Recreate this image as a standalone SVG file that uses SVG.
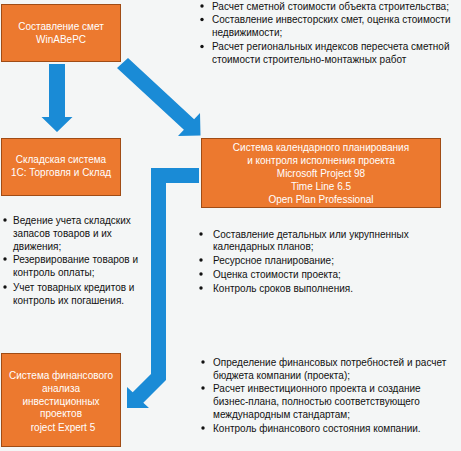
<svg xmlns="http://www.w3.org/2000/svg" width="461" height="451" viewBox="0 0 461 451">
<style>
.box{fill:#EC792F;stroke:#A04C15;stroke-width:1}
.bt{font-family:"Liberation Sans",Arial,sans-serif;font-size:10px;fill:#ffffff;text-anchor:middle}
.lt{font-family:"Liberation Sans",Arial,sans-serif;font-size:10px;fill:#111111}
.arrow{fill:#1A8BD6}
.dot{fill:#111111}
</style>
<rect x="0" y="0" width="461" height="451" fill="#F4F6F6"/>
<g id="connectors">
<polygon class="arrow" points="49,64 65,64 65,117 72.5,117 57,132 41.5,117 49,117"/>
<polygon class="arrow" points="117,68 128,58 194.1,119.2 200,113 200.5,135.5 178,136 183.9,129.8"/>
<polygon class="arrow" points="199,168 151,168 151,374 132.7,392.2 127,387 127,408 149,408 143.3,402.8 166,380 166,183 199,183"/>
</g>
<g id="node-smety">
<rect class="box" x="1.5" y="4.5" width="119" height="57"/>
<text class="bt" x="61" y="30">Составление смет</text>
<text class="bt" x="61" y="43">WinАВеРС</text>
</g>
<g id="list-smety">
<circle class="dot" cx="202" cy="6" r="1.7"/>
<text class="lt" x="212" y="9.5">Расчет сметной стоимости объекта строительства;</text>
<circle class="dot" cx="202" cy="19.5" r="1.7"/>
<text class="lt" x="212" y="23">Составление инвесторских смет, оценка стоимости</text>
<text class="lt" x="212" y="35.5">недвижимости;</text>
<circle class="dot" cx="202" cy="46.5" r="1.7"/>
<text class="lt" x="212" y="50">Расчет региональных индексов пересчета сметной</text>
<text class="lt" x="212" y="62.5">стоимости строительно-монтажных работ</text>
</g>
<g id="node-sklad">
<rect class="box" x="1.5" y="138.5" width="119" height="57"/>
<text class="bt" x="61" y="163">Складская система</text>
<text class="bt" x="61" y="176">1С: Торговля и Склад</text>
</g>
<g id="list-sklad">
<circle class="dot" cx="5" cy="220" r="1.7"/>
<text class="lt" x="13" y="223.5">Ведение учета складских</text>
<text class="lt" x="13" y="236.5">запасов товаров и их</text>
<text class="lt" x="13" y="249.5">движения;</text>
<circle class="dot" cx="5" cy="259" r="1.7"/>
<text class="lt" x="13" y="262.5">Резервирование товаров и</text>
<text class="lt" x="13" y="275.5">контроль оплаты;</text>
<circle class="dot" cx="5" cy="287" r="1.7"/>
<text class="lt" x="13" y="290.5">Учет товарных кредитов и</text>
<text class="lt" x="13" y="303.5">контроль их погашения.</text>
</g>
<g id="node-plan">
<rect class="box" x="201.5" y="138.5" width="239" height="69"/>
<text class="bt" x="321" y="151">Система календарного планирования</text>
<text class="bt" x="321" y="164">и контроля исполнения проекта</text>
<text class="bt" x="321" y="177">Microsoft Project 98</text>
<text class="bt" x="321" y="190">Time Line 6.5</text>
<text class="bt" x="321" y="203">Open Plan Professional</text>
</g>
<g id="list-plan">
<circle class="dot" cx="201" cy="234" r="1.7"/>
<text class="lt" x="213" y="237.5">Составление детальных или укрупненных</text>
<text class="lt" x="213" y="250">календарных планов;</text>
<circle class="dot" cx="201" cy="260" r="1.7"/>
<text class="lt" x="213" y="263.5">Ресурсное планирование;</text>
<circle class="dot" cx="201" cy="274" r="1.7"/>
<text class="lt" x="213" y="277.5">Оценка стоимости проекта;</text>
<circle class="dot" cx="201" cy="288" r="1.7"/>
<text class="lt" x="213" y="291.5">Контроль сроков выполнения.</text>
</g>
<g id="node-fin">
<rect class="box" x="1.5" y="353.5" width="119" height="93"/>
<text class="bt" x="61" y="378.5">Система финансового</text>
<text class="bt" x="61" y="391.5">анализа</text>
<text class="bt" x="61" y="404.5">инвестиционных</text>
<text class="bt" x="61" y="417">проектов</text>
<text class="bt" x="63" y="430.5">roject Expert 5</text>
</g>
<g id="list-fin">
<circle class="dot" cx="203" cy="362" r="1.7"/>
<text class="lt" x="213" y="365.5">Определение финансовых потребностей и расчет</text>
<text class="lt" x="213" y="378.5">бюджета компании (проекта);</text>
<circle class="dot" cx="203" cy="388" r="1.7"/>
<text class="lt" x="213" y="391.5">Расчет инвестиционного проекта и создание</text>
<text class="lt" x="213" y="404.5">бизнес-плана, полностью соответствующего</text>
<text class="lt" x="213" y="417.5">международным стандартам;</text>
<circle class="dot" cx="203" cy="428" r="1.7"/>
<text class="lt" x="213" y="431.5">Контроль финансового состояния компании.</text>
</g>
</svg>
